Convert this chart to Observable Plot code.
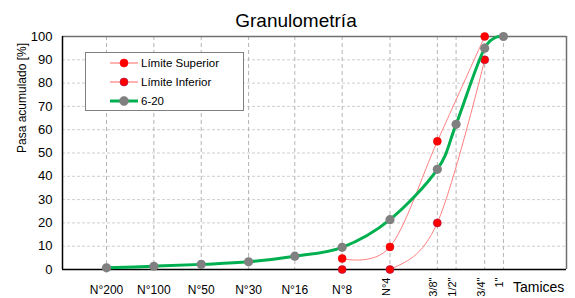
<!DOCTYPE html>
<html><head><meta charset="utf-8">
<script src="https://cdn.jsdelivr.net/npm/d3@7"></script>
<script src="https://cdn.jsdelivr.net/npm/@observablehq/plot@0.6"></script>
<style>
body{margin:0;background:#fff;font-family:"Liberation Sans",Arial,sans-serif;}
#wrap{position:relative;width:575px;height:298px;overflow:hidden;background:#fff;}
#wrap > svg{position:absolute;left:0;top:0;}
#title{position:absolute;left:196px;width:200px;top:10px;text-align:center;font-size:19px;color:#000;}
#tamices{position:absolute;left:513px;top:279px;font-size:14px;color:#000;}
#legend{position:absolute;left:85px;top:52px;width:157px;height:57px;border:1px solid #808080;background:#fff;font-size:11.5px;color:#000;}
.row{position:absolute;left:24px;height:18px;display:flex;align-items:center;}
.row svg{display:block;margin-right:3px;}
</style></head><body><div id="wrap">
<div id="title">Granulometría</div>
<div id="tamices">Tamices</div>
<div id="legend"></div>
</div>
<script>
const sieves = ["N°200","N°100","N°50","N°30","N°16","N°8","N°4","3/8\"","1/2\"","3/4\"","1\""];
const sizes = [0.075,0.15,0.3,0.6,1.18,2.36,4.75,9.5,12.5,19,25];
const rotated = [false,false,false,false,false,false,true,true,true,true,true];
const grading = [0.7,1.4,2.2,3.3,5.7,9.5,21.4,43,62.3,95,100];
const limitSieves = ["N°8","N°4","3/8\"","3/4\""];
const supValues = [4.7,9.7,55,100];
const infValues = [0,0,20,90];
const yTicks = [0,10,20,30,40,50,60,70,80,90,100];
const xDomain = [0.0394,62.9];

const sizeOf = s => sizes[sieves.indexOf(s)];
const gradData = sieves.map((s,i)=>({sieve:s,size:sizes[i],value:grading[i]}));
const supData = limitSieves.map((s,i)=>({size:sizeOf(s),value:supValues[i]}));
const infData = limitSieves.map((s,i)=>({size:sizeOf(s),value:infValues[i]}));
const labelData = sieves.map((s,i)=>({sieve:s,size:sizes[i],rot:rotated[i]}));

const chart = Plot.plot({
  width:575,height:298,
  marginLeft:62,marginRight:9,marginTop:36,marginBottom:29,
  style:{fontFamily:"'Liberation Sans',Arial,sans-serif",color:"#000",background:"transparent",overflow:"visible"},
  x:{type:"log",domain:xDomain,axis:null},
  y:{domain:[0,100],axis:null},
  marks:[
    Plot.ruleY(yTicks.filter(d=>d>0&&d<100),{stroke:"#cfcfcf",strokeWidth:1,strokeDasharray:"3,2"}),
    Plot.ruleX(sizes,{stroke:"#b5b5b5",strokeWidth:1,strokeDasharray:"4,3"}),
    Plot.ruleY([100],{stroke:"#6f6f6f",strokeWidth:1.5}),
    Plot.ruleX([xDomain[1]],{stroke:"#6f6f6f",strokeWidth:1.5}),
    Plot.line(supData,{x:"size",y:"value",stroke:"#ff7f7f",strokeWidth:1,curve:"cardinal",clip:true}),
    Plot.line(infData,{x:"size",y:"value",stroke:"#ff7f7f",strokeWidth:1,curve:"cardinal",clip:true}),
    Plot.ruleX([xDomain[0]],{stroke:"#000",strokeWidth:1.5}),
    Plot.ruleY([0],{stroke:"#000",strokeWidth:1.5}),
    Plot.dot(supData,{x:"size",y:"value",r:4,fill:"#ff0000",stroke:"#e00000",strokeWidth:0.5}),
    Plot.dot(infData,{x:"size",y:"value",r:4,fill:"#ff0000",stroke:"#a01050",strokeWidth:0.6}),
    Plot.line(gradData,{x:"size",y:"value",stroke:"#00b050",strokeWidth:3,curve:"cardinal"}),
    Plot.dot(gradData,{x:"size",y:"value",r:4.6,fill:"#808080"}),
    Plot.axisY(yTicks,{tickSize:0,tickPadding:10,fontSize:13,label:null}),
    Plot.text(["Pasa acumulado [%]"],{frameAnchor:"left",dx:-40,rotate:-90,fontSize:12,fill:"#000"}),
    Plot.text(labelData.filter(d=>!d.rot),{x:"size",text:"sieve",frameAnchor:"bottom",dy:24,fontSize:12,fill:"#000"}),
    Plot.text(labelData.filter(d=>d.rot),{x:"size",text:"sieve",frameAnchor:"bottom",dy:8,rotate:-90,textAnchor:"end",fontSize:11,fill:"#000"})
  ]
});
document.getElementById("wrap").prepend(chart);

const entries = [
  {name:"Límite Superior",line:"#ff9999",lw:1.5,dot:"#ff0000",stroke:"#ff0000",r:4,top:1},
  {name:"Límite Inferior",line:"#ff9999",lw:1.5,dot:"#ff0000",stroke:"#a01050",r:4,top:20},
  {name:"6-20",line:"#00b050",lw:3,dot:"#808080",stroke:"#808080",r:4.5,top:39}
];
const leg = document.getElementById("legend");
entries.forEach(e=>{
  const row = document.createElement("div");
  row.className="row"; row.style.top=e.top+"px";
  row.innerHTML = `<svg width="28" height="12"><line x1="0" x2="28" y1="6" y2="6" stroke="${e.line}" stroke-width="${e.lw}"/><circle cx="14" cy="6" r="${e.r}" fill="${e.dot}" stroke="${e.stroke}" stroke-width="0.6"/></svg><span>${e.name}</span>`;
  leg.appendChild(row);
});
</script>
</body></html>
